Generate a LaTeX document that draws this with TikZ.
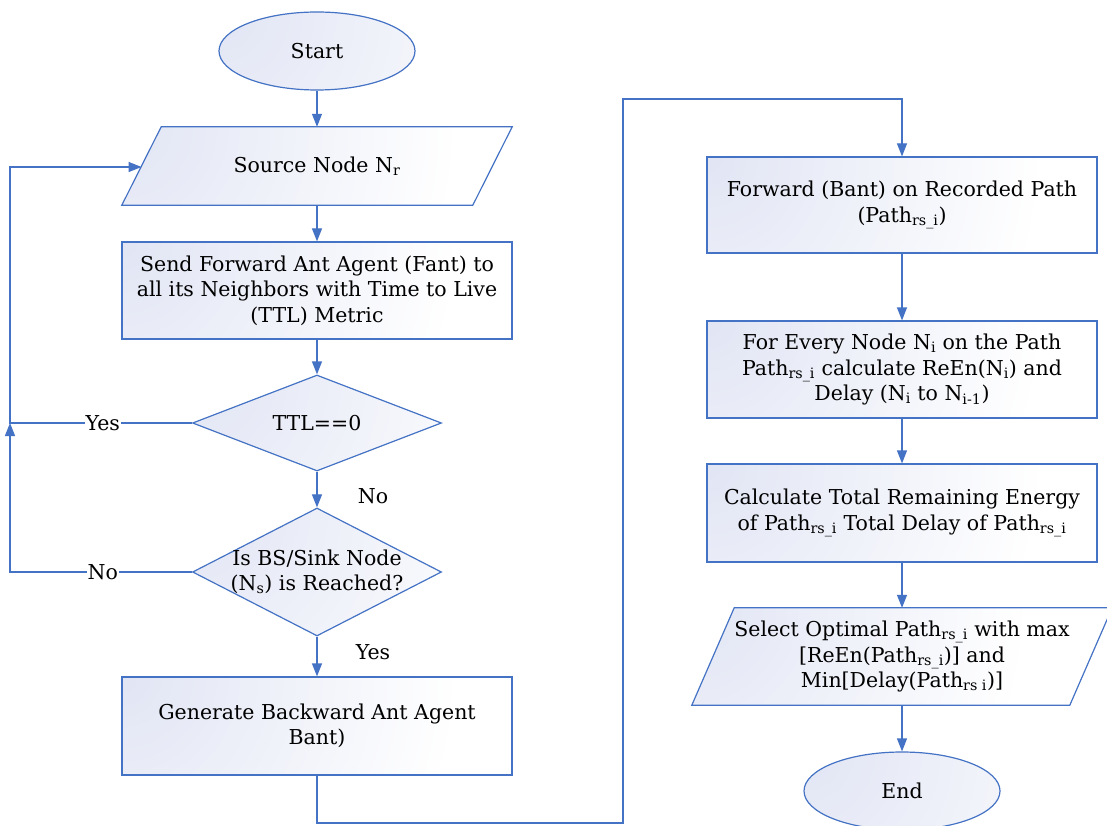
\documentclass[tikz,border=0pt]{standalone}
\usepackage{fontspec}
\setmainfont{DejaVu Serif}
\usetikzlibrary{shapes.geometric,arrows.meta,backgrounds}
\definecolor{lineblue}{HTML}{4472C4}
\definecolor{shadeblue}{HTML}{E1E5F4}
% lavender tint that fades to white well before the rim
\pgfdeclareradialshading{cornerglow}{\pgfpoint{0bp}{0bp}}{%
  color(0bp)=(shadeblue); color(14bp)=(white); color(50bp)=(white)}
\newcommand{\lo}[1]{\textsubscript{#1}}
\begin{document}
\begin{tikzpicture}[x=1pt,y=-1pt,
  txt/.style={font=\fontsize{20.5}{25.5}\selectfont},
  % light lavender glow from the upper left corner of every shape
  skin/.style={draw=lineblue, line width=1.2pt, fill=white,
    path picture={\shade[shading=cornerglow]
      (path picture bounding box.north west) circle[radius=600pt];}},
  base/.style={skin, inner sep=0pt, align=center, txt},
  term/.style={base, ellipse, minimum width=196pt, minimum height=78pt},
  iobox/.style={inner sep=0pt, align=center, txt, rectangle},
  proc/.style={base, rectangle, minimum width=390pt, minimum height=97pt},
  decide/.style={skin, diamond, inner sep=0pt, aspect=2.6, minimum width=249pt,
    label={[txt, align=center]center:#1}},
  arr/.style={draw=lineblue, line width=1.2pt, -{Triangle[length=13pt,width=10pt]}},
  lbl/.style={txt, inner sep=1pt},
]
\clip (0,0) rectangle (1107,826);

% left column
\node[term] (start) at (317,51) {Start};
\node[iobox, minimum width=390pt, minimum height=78pt] (src) at (317,166) {Source Node N\lo{r}};
\node[proc] (send) at (317,290.5) {Send Forward Ant Agent (Fant) to\\all its Neighbors with Time to Live\\(TTL) Metric};
\node[decide={TTL==0}, minimum height=96pt] (ttl) at (317,423) {};
\node[decide={Is BS/Sink Node\\(N\lo{s}) is Reached?}, minimum height=128pt] (reach) at (317,572) {};
\node[proc, minimum height=98pt] (gen) at (317,726) {Generate Backward Ant Agent\\Bant)};

% right column
\node[proc, minimum height=96pt] (fwd) at (902,205) {Forward (Bant) on Recorded Path\\(Path\lo{rs\_i})};
\node[proc] (every) at (902,369.5) {For Every Node N\lo{i} on the Path\\Path\lo{rs\_i} calculate ReEn(N\lo{i}) and\\Delay (N\lo{i} to N\lo{i-1})};
\node[proc, minimum height=98pt] (total) at (902,513) {Calculate Total Remaining Energy\\of Path\lo{rs\_i} Total Delay of Path\lo{rs\_i}};
\node[iobox, minimum width=420pt, minimum height=97pt] (sel) at (902,656.5) {Select Optimal Path\lo{rs\_i} with max\\{}[ReEn(Path\lo{rs\_i})] and\\Min[Delay(Path\lo{rs\ i})]};
\node[term] (end) at (902,791) {End};

% parallelogram outlines behind the two input/output nodes
\begin{scope}[on background layer]
  \fill[white] (0,0) rectangle (1107,826);
  \path[skin] (src.south west) -- ++(351,0) -- (src.north east) -- ++(-351,0) -- cycle;
  \path[skin] (sel.south west) -- ++(378,0) -- (sel.north east) -- ++(-378,0) -- cycle;
\end{scope}

% bend points of the connectors
\coordinate (srcin) at (141.5,167);
\coordinate (lj) at (10,423);
\coordinate (bl) at (623,823);
\coordinate (tl) at (623,99);

% main flow
\draw[arr] (start) -- (src);
\draw[arr] (src) -- (send);
\draw[arr] (send) -- (ttl);
\draw[arr] (ttl) -- (reach);
\draw[arr] (reach) -- (gen);
\draw[arr] (gen.south) |- (bl) -- (tl) -| (fwd.north);
\draw[arr] (fwd) -- (every);
\draw[arr] (every) -- (total);
\draw[arr] (total) -- (sel);
\draw[arr] (sel) -- (end);

% branch labels beside the main flow
\node[lbl] (lno) at (373,496) {No};
\node[lbl] (lyes) at (373,652) {Yes};

% loops back to the source node
\draw[arr] (ttl.west) -- node[lbl, fill=white, pos=0.49] {Yes} (lj) |- (srcin);
\draw[arr] (reach.west) -- node[lbl, fill=white, pos=0.49] {No} (lj |- reach.west) -- (lj);
\end{tikzpicture}
\end{document}
